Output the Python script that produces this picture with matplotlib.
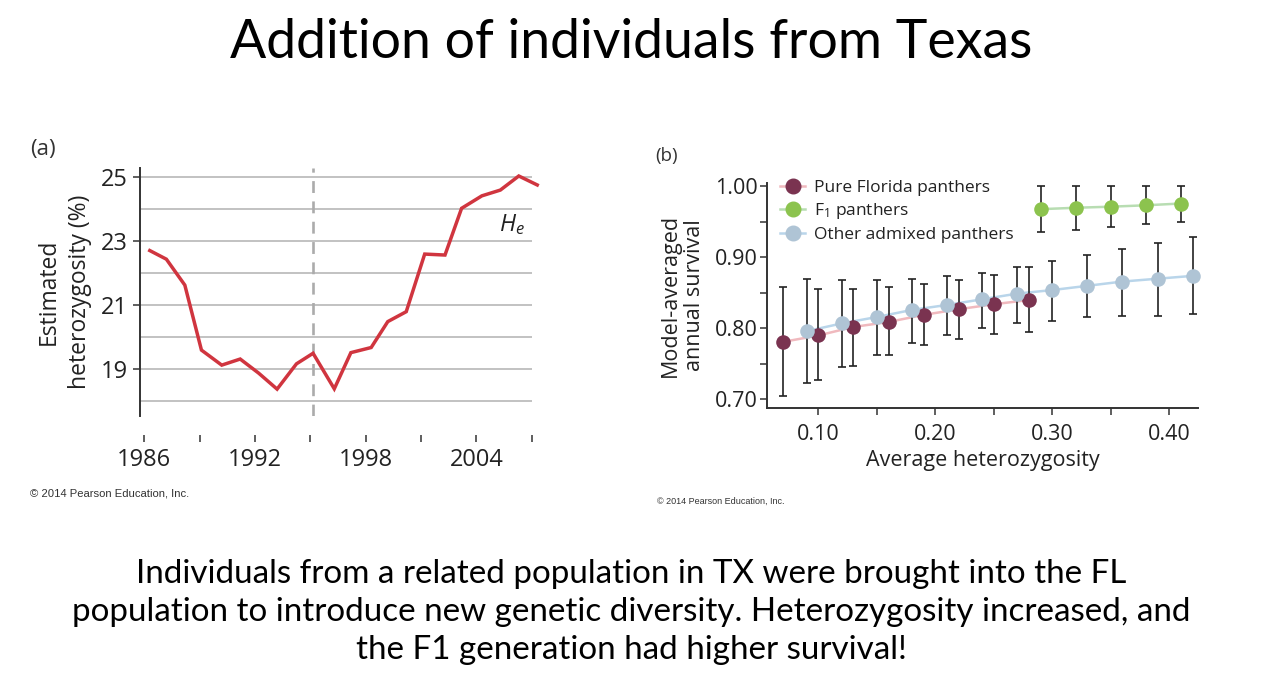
import matplotlib
matplotlib.use('Agg')
import matplotlib.pyplot as plt
from matplotlib.lines import Line2D
from matplotlib.ticker import FixedLocator, FixedFormatter

plt.rcParams['font.family'] = ['Open Sans', 'DejaVu Sans']
plt.rcParams['mathtext.fontset'] = 'custom'
plt.rcParams['mathtext.rm'] = 'Open Sans'
plt.rcParams['mathtext.it'] = 'Open Sans:italic'

# ---------------- data ----------------
title = "Addition of individuals from Texas"
caption = ("Individuals from a related population in TX were brought into the FL\n"
           "population to introduce new genetic diversity. Heterozygosity increased, and\n"
           "the F1 generation had higher survival!")

# panel (a)
years = [1986.3, 1987.2, 1988.2, 1989.1, 1990.2, 1991.2, 1992.2, 1993.2, 1994.25, 1995.15,
         1996.3, 1997.2, 1998.3, 1999.2, 2000.2, 2001.2, 2002.3, 2003.2, 2004.3, 2005.3,
         2006.3, 2007.3]
het = [22.70, 22.43, 21.62, 19.59, 19.12, 19.31, 18.87, 18.37, 19.16, 19.49,
       18.38, 19.51, 19.67, 20.48, 20.79, 22.59, 22.56, 24.02, 24.41, 24.59,
       25.03, 24.75]
a_xticks = [1986, 1989, 1992, 1995, 1998, 2001, 2004, 2007]
a_xticklabels = ["1986", "", "1992", "", "1998", "", "2004", ""]
a_yticks = [19, 21, 23, 25]
a_grid = [18, 19, 20, 21, 22, 23, 24, 25]
release_year = 1995.15

# panel (b)
pure_x = [0.07, 0.10, 0.13, 0.16, 0.19, 0.22, 0.25, 0.28]
pure_y = [0.781, 0.790, 0.802, 0.809, 0.819, 0.827, 0.834, 0.840]
pure_hi = [0.858, 0.855, 0.855, 0.858, 0.862, 0.868, 0.875, 0.886]
pure_lo = [0.705, 0.727, 0.747, 0.763, 0.777, 0.785, 0.792, 0.795]

f1_x = [0.29, 0.32, 0.35, 0.38, 0.41]
f1_y = [0.968, 0.970, 0.9715, 0.9735, 0.976]
f1_hi = [1.001, 1.000, 1.000, 1.001, 1.001]
f1_lo = [0.936, 0.939, 0.943, 0.947, 0.950]

adm_x = [0.09, 0.12, 0.15, 0.18, 0.21, 0.24, 0.27, 0.30, 0.33, 0.36, 0.39, 0.42]
adm_y = [0.796, 0.807, 0.816, 0.826, 0.833, 0.841, 0.849, 0.854, 0.860, 0.866, 0.870, 0.874]
adm_hi = [0.870, 0.868, 0.868, 0.870, 0.874, 0.878, 0.886, 0.895, 0.903, 0.912, 0.920, 0.929]
adm_lo = [0.723, 0.745, 0.763, 0.779, 0.790, 0.801, 0.807, 0.811, 0.816, 0.818, 0.818, 0.820]

b_xticks = [0.10, 0.15, 0.20, 0.25, 0.30, 0.35, 0.40]
b_xticklabels = ["0.10", "", "0.20", "", "0.30", "", "0.40"]
b_yticks = [0.70, 0.75, 0.80, 0.85, 0.90, 0.95, 1.00]
b_yticklabels = ["0.70", "", "0.80", "", "0.90", "", "1.00"]

series_names = ["Pure Florida panthers", "F$_1$ panthers", "Other admixed panthers"]

# ---------------- layout ----------------
W, H, DPI = 1263, 687, 100
fig = plt.figure(figsize=(W / DPI, H / DPI), dpi=DPI)


def rect(l, t, r, b):
    return [l / W, 1 - b / H, (r - l) / W, (b - t) / H]


AX_COL = '#333333'
TXT = '#222222'

# ---------- panel (a) ----------
axa = fig.add_axes(rect(140, 168, 531.7, 416))
axa.set_xlim(1985.77, 2007.0)
axa.set_ylim(17.53, 25.28)
axa.hlines(a_grid, 1985.77, 2007.0, colors='#BDBDBD', lw=1.3, zorder=1)
axa.axvline(release_year, color='#ABABAB', lw=1.9, dashes=(4.5, 3.2), zorder=2)
axa.plot(years, het, color='#D0353F', lw=2.5, zorder=3, clip_on=False,
         solid_joinstyle='miter')
for s in ['top', 'right']:
    axa.spines[s].set_visible(False)
axa.spines['left'].set_color(AX_COL)
axa.spines['left'].set_linewidth(1.4)
axa.spines['bottom'].set_position(('outward', 13.7))
axa.spines['bottom'].set_visible(False)
axa.set_xticks(a_xticks)
axa.set_xticklabels(a_xticklabels)
axa.set_yticks(a_yticks)
axa.tick_params(axis='both', direction='out', length=5, width=1.1, color=AX_COL,
                labelsize=17, labelcolor=TXT)
axa.tick_params(axis='x', pad=4)
axa.tick_params(axis='y', pad=4)
axa.set_ylabel("Estimated\nheterozygosity (%)", fontsize=16.5, color=TXT,
               linespacing=1.4, labelpad=6)
axa.text(2005.93, 23.5, r"$H_e$", fontsize=17, ha='center', va='center', color=TXT)
fig.text(30 / W, 1 - 150 / H, "(a)", fontsize=16, color='#333333', va='center')
fig.text(30 / W, 1 - 494 / H, "\u00a9 2014 Pearson Education, Inc.", fontsize=8.1,
         family='Liberation Sans', color='#333333', va='center')

# ---------- panel (b) ----------
axb = fig.add_axes(rect(767.3, 183, 1198.3, 407.7))
axb.set_xlim(0.0564, 0.4248)
axb.set_ylim(0.6882, 1.0049)

C_PURE, L_PURE = '#7A3350', '#F0B9BE'
C_F1, L_F1 = '#8CC34E', '#B8DDB2'
C_ADM, L_ADM = '#AFC4D5', '#B9D5EA'
EB = '#222222'
MS = 10.5

groups = [
    (pure_x, pure_y, pure_lo, pure_hi, C_PURE, L_PURE),
    (f1_x, f1_y, f1_lo, f1_hi, C_F1, L_F1),
    (adm_x, adm_y, adm_lo, adm_hi, C_ADM, L_ADM),
]
for gx, gy, glo, ghi, cm, cl in groups:
    axb.plot(gx, gy, color=cl, lw=1.8, zorder=2, clip_on=False)
    yerr = [[y - lo for y, lo in zip(gy, glo)], [hi - y for y, hi in zip(gy, ghi)]]
    axb.errorbar(gx, gy, yerr=yerr, fmt='none', ecolor=EB, elinewidth=1.2,
                 capsize=3.2, capthick=1.2, zorder=3, clip_on=False)
for gx, gy, glo, ghi, cm, cl in groups:
    axb.plot(gx, gy, 'o', color=cm, ms=MS, mew=0, zorder=4, clip_on=False)

for s in ['top', 'right']:
    axb.spines[s].set_visible(False)
for s in ['left', 'bottom']:
    axb.spines[s].set_color(AX_COL)
    axb.spines[s].set_linewidth(1.4)
axb.xaxis.set_major_locator(FixedLocator(b_xticks))
axb.xaxis.set_major_formatter(FixedFormatter(b_xticklabels))
axb.yaxis.set_major_locator(FixedLocator(b_yticks))
axb.yaxis.set_major_formatter(FixedFormatter(b_yticklabels))
axb.tick_params(axis='both', direction='out', length=5, width=1.1, color=AX_COL,
                labelsize=15.5, labelcolor=TXT)
axb.tick_params(axis='x', pad=7)
axb.tick_params(axis='y', pad=2)
axb.set_xlabel("Average heterozygosity", fontsize=15.5, color=TXT, labelpad=3)
axb.set_ylabel("Model-averaged\nannual survival", fontsize=15.5, color=TXT,
               linespacing=1.2, labelpad=7)

handles = [Line2D([], [], color=cl, lw=1.8, marker='o', ms=MS, mfc=cm, mec=cm)
           for cm, cl in [(C_PURE, L_PURE), (C_F1, L_F1), (C_ADM, L_ADM)]]
leg = axb.legend(handles, series_names, loc='upper left',
                 bbox_to_anchor=(780 / W, 1 - 180 / H), bbox_transform=fig.transFigure,
                 frameon=False, fontsize=12.5, handlelength=1.45, handletextpad=0.5,
                 labelspacing=0.3, borderpad=0, borderaxespad=0)
for t in leg.get_texts():
    t.set_color(TXT)

fig.text(655 / W, 1 - 156 / H, "(b)", fontsize=13.5, color='#333333', va='center')
fig.text(657 / W, 1 - 501 / H, "\u00a9 2014 Pearson Education, Inc.", fontsize=6.45,
         family='Liberation Sans', color='#333333', va='center')

# ---------- slide text ----------
fig.text(0.5, 1 - 43 / H, title, fontsize=38.6, family='Lato', ha='center', va='center',
         color='black')
fig.text(0.5, 1 - 612 / H, caption, fontsize=23.9, family='Lato', ha='center',
         va='center', color='black', linespacing=1.32)

fig.savefig('out.png', dpi=DPI)
